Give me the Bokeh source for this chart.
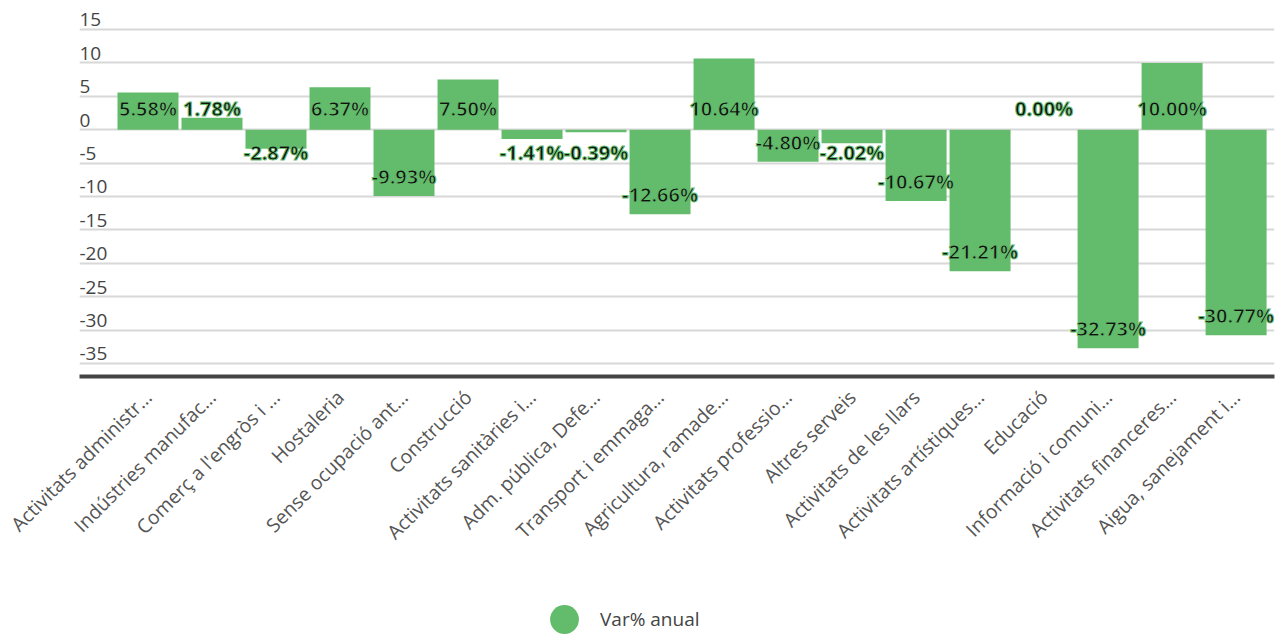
from bokeh.plotting import figure
from bokeh.layouts import column
from bokeh.models import (Range1d, FixedTicker, ColumnDataSource, Legend, LegendItem)
from bokeh.core.properties import value
from bokeh.embed import file_html
from bokeh.resources import INLINE
import math

categories = [
    "Activitats administr…", "Indústries manufac…", "Comerç a l'engròs i …",
    "Hostaleria", "Sense ocupació ant…", "Construcció",
    "Activitats sanitàries i…", "Adm. pública, Defe…", "Transport i emmaga…",
    "Agricultura, ramade…", "Activitats professio…", "Altres serveis",
    "Activitats de les llars", "Activitats artístiques…", "Educació",
    "Informació i comuni…", "Activitats financeres…", "Aigua, sanejament i…",
]
var_anual = [5.58, 1.78, -2.87, 6.37, -9.93, 7.50, -1.41, -0.39, -12.66,
             10.64, -4.80, -2.02, -10.67, -21.21, 0.00, -32.73, 10.00, -30.77]
y_ticks = [-35, -30, -25, -20, -15, -10, -5, 0, 5, 10, 15]
series_name = "Var% anual"

GREEN = "#63bc6b"
FONT = "Open Sans"
W = 1276
H1, H2 = 562, 72

xs = list(range(len(categories)))
X0, X1 = -1.07, 17.60

p = figure(width=W, height=H1, output_backend="svg", toolbar_location=None,
           x_range=Range1d(X0, X1), y_range=Range1d(-36.95, 18.59),
           min_border_left=79, min_border_right=2, min_border_top=5,
           min_border_bottom=H1 - 376)
p.outline_line_color = None
p.background_fill_color = "white"

# grid
p.xgrid.visible = False
p.ygrid.ticker = FixedTicker(ticks=y_ticks)
p.ygrid.grid_line_color = "#d8d8d8"
p.ygrid.grid_line_width = 2

# y axis hidden, labels drawn over gridlines
p.yaxis.visible = False
p.text(x=[X0] * len(y_ticks), y=y_ticks, text=[str(t) for t in y_ticks],
       text_align="left", text_baseline="bottom", y_offset=-3,
       text_font=value(FONT), text_font_size="19px", text_color="#444444")

# x axis
p.xaxis.ticker = FixedTicker(ticks=xs)
p.xaxis.major_label_overrides = {i: c for i, c in zip(xs, categories)}
p.xaxis.major_label_orientation = math.pi / 4
p.xaxis.major_label_text_font = FONT
p.xaxis.major_label_text_font_size = "19.5px"
p.xaxis.major_label_text_color = "#555555"
p.xaxis.major_label_standoff = 11
p.xaxis.axis_line_color = "#444444"
p.xaxis.axis_line_width = 4
p.xaxis.major_tick_line_color = None
p.xaxis.minor_tick_line_color = None

src = ColumnDataSource(dict(x=xs, v=var_anual))
p.vbar(x="x", top="v", bottom=0, width=0.953, source=src,
       fill_color=GREEN, line_color=None)

# data labels
ly, off = [], []
for v in var_anual:
    if v >= 0:
        ly.append(0); off.append(-21)
    elif v < -3.5:
        ly.append(v); off.append(-19.5)
    else:
        ly.append(0); off.append(23)
lsrc = ColumnDataSource(dict(x=xs, y=ly, off=off,
                             t=[f"{v:.2f}%" for v in var_anual]))
p.text(x="x", y="y", text="t", y_offset="off", source=lsrc,
       text_align="center", text_baseline="middle",
       text_font=value(FONT), text_font_size="20px", text_font_style="bold",
       text_color="#111111", text_outline_color=GREEN)

# legend figure (frames are aligned with the main figure by the column)
q = figure(width=W, height=H2, output_backend="svg", toolbar_location=None,
           x_range=Range1d(0, 1), y_range=Range1d(0, 1),
           x_axis_type=None, y_axis_type=None, min_border=0)
q.outline_line_color = None
nan = float("nan")
dummy = q.scatter(x=[nan], y=[nan], marker="circle", fill_color=GREEN,
                  line_color=None)
legend = Legend(items=[LegendItem(label=series_name, renderers=[dummy])],
                location=(449, -21), glyph_width=72, glyph_height=72,
                padding=0, margin=0, spacing=0, label_standoff=0,
                border_line_color=None, background_fill_alpha=0,
                label_text_font=FONT, label_text_font_size="19px",
                label_text_color="#444444")
q.add_layout(legend, "center")

layout = column(p, q, spacing=0)
open("out.html", "w").write(file_html(layout, INLINE))
